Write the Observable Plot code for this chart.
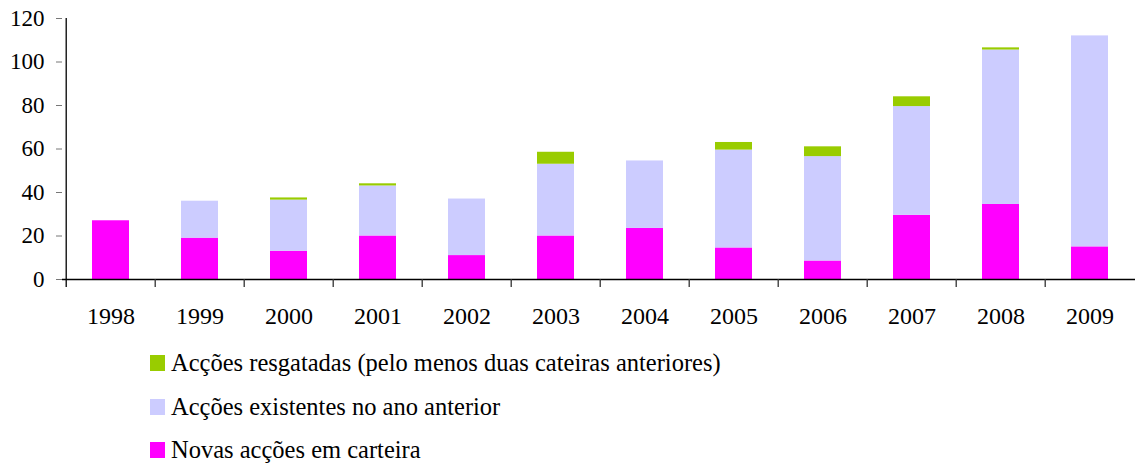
<!DOCTYPE html>
<html>
<head>
<meta charset="utf-8">
<script src="https://cdn.jsdelivr.net/npm/d3@7"></script>
<script src="https://cdn.jsdelivr.net/npm/@observablehq/plot@0.6"></script>
<style>
  html, body { margin: 0; padding: 0; background: #fff; }
  body { width: 1135px; height: 464px; overflow: hidden; font-family: "Liberation Serif", serif; }
  svg { display: block; }
  #legend { padding-top: 1.5px; }
  .row { height: 43.5px; display: flex; align-items: center; padding-left: 150px; font-size: 24.5px; color: #000; }
  .sw { width: 15px; height: 16px; margin-right: 6px; flex: none; }
</style>
</head>
<body>
<div id="chart"></div>
<div id="legend"></div>
<script>
const years = ["1998","1999","2000","2001","2002","2003","2004","2005","2006","2007","2008","2009"];
const novas = [27, 19, 13, 20, 11, 20, 23.5, 14.5, 8.5, 29.5, 34.5, 15];
const existentes = [0, 17, 23.5, 23, 26, 33, 31, 45, 48, 50, 71, 97];
const resgatadas = [0, 0, 1, 1, 0, 5.5, 0, 3.5, 4.5, 4.5, 1, 0];
const seriesNames = ["Novas acções em carteira", "Acções existentes no ano anterior", "Acções resgatadas (pelo menos duas cateiras anteriores)"];
const seriesColors = ["#FF00FF", "#CCCCFF", "#99CC00"];
const yTicks = [0, 20, 40, 60, 80, 100, 120];

const FONT = '"Liberation Serif", serif';

const seriesValues = [novas, existentes, resgatadas];
const data = [];
years.forEach((yr, i) => {
  seriesValues.forEach((vals, s) => {
    data.push({year: yr, series: seriesNames[s], value: vals[i]});
  });
});

const W = 1135, H = 340;
const mL = 62, mR = -2, mT = 18, mB = 61;
const step = (W - mL - mR) / years.length;

const chart = Plot.plot({
  width: W,
  height: H,
  marginLeft: mL,
  marginRight: mR,
  marginTop: mT,
  marginBottom: mB,
  style: {fontFamily: FONT, fontSize: "24px", color: "#000", background: "#fff", overflow: "visible"},
  x: {type: "band", domain: years, paddingInner: 0.586, paddingOuter: 0.293, label: null},
  y: {domain: [0, 120], label: null},
  color: {domain: seriesNames, range: seriesColors},
  marks: [
    Plot.barY(data, {x: "year", y: "value", fill: "series", order: seriesNames}),
    Plot.ruleY([0], {stroke: "#000", strokeWidth: 1.3}),
    Plot.ruleX([years[0]], {x: d => d, y1: 120, y2: 0, dx: -step / 2, insetBottom: -8, stroke: "#000", strokeWidth: 1.3}),
    Plot.ruleX(years.slice(1), {x: d => d, y1: 0, y2: 0, dx: -step / 2, insetBottom: -8, stroke: "#333", strokeWidth: 1.3}),
    Plot.axisY({ticks: yTicks, tickSize: 6, tickPadding: 12, stroke: "#777", fill: "#000", label: null, fontSize: 23}),
    Plot.axisX({tickSize: 0, tickPadding: 27, fill: "#000", label: null, fontSize: 24})
  ]
});
document.getElementById("chart").appendChild(chart);

const legend = document.getElementById("legend");
[2, 1, 0].forEach(s => {
  const row = document.createElement("div");
  row.className = "row";
  const sw = document.createElement("span");
  sw.className = "sw";
  sw.style.background = seriesColors[s];
  const tx = document.createElement("span");
  tx.textContent = seriesNames[s];
  row.appendChild(sw);
  row.appendChild(tx);
  legend.appendChild(row);
});
</script>
</body>
</html>
